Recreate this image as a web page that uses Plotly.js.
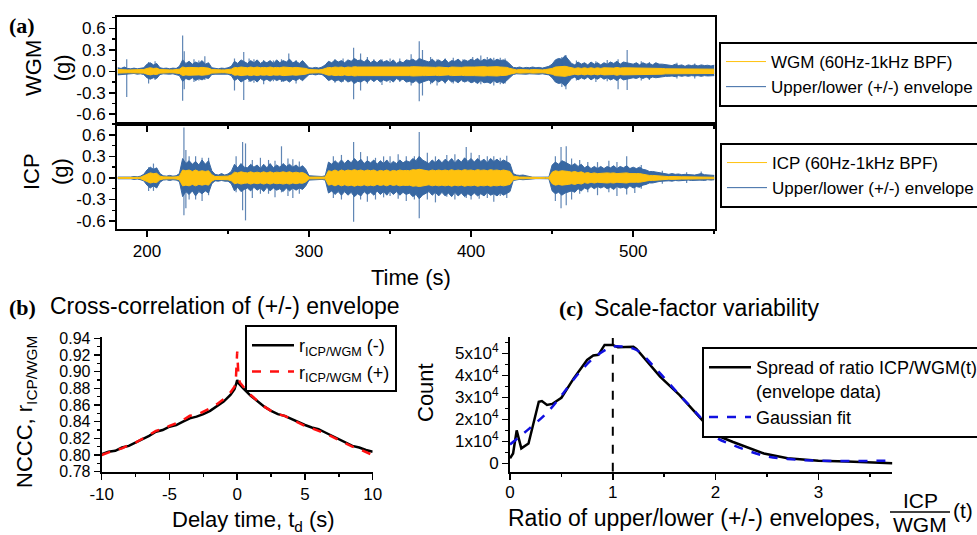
<!DOCTYPE html>
<html>
<head>
<meta charset="utf-8">
<script src="https://cdn.plot.ly/plotly-3.0.1.min.js"></script>
<style>html,body{margin:0;padding:0;background:#fff;}#chart{width:977px;height:535px;}</style>
</head>
<body>
<div id="chart"></div>
<script>
// ---------- Panel (a): sampled envelope / signal amplitude (g), 2 s grid ----------
const timeS = [
182,184,186,188,190,192,194,196,198,200,
202,204,206,208,210,212,214,216,218,220,
222,224,226,228,230,232,234,236,238,240,
242,244,246,248,250,252,254,256,258,260,
262,264,266,268,270,272,274,276,278,280,
282,284,286,288,290,292,294,296,298,300,
302,304,306,308,310,312,314,316,318,320,
322,324,326,328,330,332,334,336,338,340,
342,344,346,348,350,352,354,356,358,360,
362,364,366,368,370,372,374,376,378,380,
382,384,386,388,390,392,394,396,398,400,
402,404,406,408,410,412,414,416,418,420,
422,424,426,428,430,432,434,436,438,440,
442,444,446,448,450,452,454,456,458,460,
462,464,466,468,470,472,474,476,478,480,
482,484,486,488,490,492,494,496,498,500,
502,504,506,508,510,512,514,516,518,520,
522,524,526,528,530,532,534,536,538,540,
542,544,546,548,550];

const wgmUpper = [
0.05,0.04,0.06,0.04,0.035,0.045,0.035,0.04,0.05,0.10,
0.12,0.09,0.11,0.05,0.04,0.045,0.035,0.045,0.04,0.07,
0.16,0.11,0.14,0.10,0.13,0.11,0.15,0.10,0.12,0.05,
0.04,0.035,0.045,0.04,0.05,0.07,0.14,0.11,0.16,0.13,
0.11,0.15,0.12,0.16,0.11,0.14,0.12,0.15,0.11,0.16,
0.12,0.15,0.13,0.17,0.12,0.14,0.11,0.15,0.10,0.05,
0.045,0.055,0.045,0.06,0.09,0.14,0.12,0.16,0.13,0.15,
0.12,0.16,0.14,0.18,0.15,0.16,0.13,0.17,0.12,0.15,
0.12,0.16,0.13,0.15,0.12,0.16,0.11,0.14,0.12,0.16,
0.15,0.17,0.14,0.18,0.16,0.15,0.13,0.17,0.13,0.16,
0.13,0.17,0.12,0.15,0.14,0.17,0.13,0.16,0.14,0.17,
0.15,0.18,0.14,0.17,0.15,0.18,0.14,0.17,0.15,0.16,
0.14,0.10,0.055,0.05,0.06,0.045,0.055,0.05,0.06,0.05,
0.055,0.045,0.06,0.07,0.10,0.16,0.18,0.17,0.22,0.16,
0.11,0.09,0.13,0.10,0.12,0.09,0.13,0.10,0.12,0.09,
0.12,0.10,0.13,0.11,0.14,0.10,0.13,0.12,0.11,0.10,
0.12,0.09,0.12,0.10,0.11,0.09,0.12,0.10,0.10,0.09,
0.09,0.08,0.10,0.08,0.09,0.07,0.09,0.08,0.09,0.075,
0.09,0.08,0.085,0.075,0.085];

const wgmLower = [
-0.05,-0.045,-0.05,-0.035,-0.04,-0.03,-0.04,-0.035,-0.045,-0.09,
-0.11,-0.09,-0.10,-0.045,-0.035,-0.04,-0.04,-0.035,-0.045,-0.06,
-0.14,-0.10,-0.12,-0.09,-0.13,-0.10,-0.12,-0.09,-0.10,-0.045,
-0.04,-0.04,-0.035,-0.045,-0.04,-0.06,-0.13,-0.10,-0.15,-0.12,
-0.10,-0.14,-0.11,-0.15,-0.10,-0.13,-0.11,-0.14,-0.10,-0.13,
-0.11,-0.14,-0.12,-0.15,-0.11,-0.13,-0.10,-0.13,-0.09,-0.045,
-0.04,-0.05,-0.04,-0.045,-0.08,-0.13,-0.11,-0.14,-0.12,-0.15,
-0.11,-0.15,-0.13,-0.17,-0.14,-0.15,-0.12,-0.15,-0.11,-0.14,
-0.11,-0.15,-0.12,-0.14,-0.11,-0.15,-0.10,-0.13,-0.11,-0.15,
-0.14,-0.16,-0.13,-0.17,-0.15,-0.14,-0.12,-0.16,-0.12,-0.15,
-0.12,-0.16,-0.11,-0.15,-0.13,-0.16,-0.12,-0.15,-0.13,-0.16,
-0.14,-0.17,-0.13,-0.16,-0.15,-0.17,-0.13,-0.16,-0.14,-0.17,
-0.13,-0.09,-0.045,-0.035,-0.04,-0.035,-0.04,-0.035,-0.04,-0.035,
-0.04,-0.035,-0.045,-0.05,-0.09,-0.15,-0.17,-0.16,-0.21,-0.15,
-0.10,-0.08,-0.12,-0.09,-0.11,-0.08,-0.12,-0.09,-0.11,-0.08,
-0.11,-0.09,-0.12,-0.10,-0.13,-0.09,-0.12,-0.11,-0.10,-0.09,
-0.10,-0.08,-0.10,-0.08,-0.10,-0.08,-0.09,-0.08,-0.08,-0.07,
-0.07,-0.065,-0.075,-0.06,-0.07,-0.06,-0.07,-0.06,-0.065,-0.06,
-0.07,-0.06,-0.065,-0.06,-0.06];

const wgmSignalAmp = [
0.025,0.02,0.025,0.02,0.02,0.02,0.02,0.02,0.025,0.04,
0.05,0.04,0.045,0.025,0.02,0.02,0.02,0.02,0.02,0.03,
0.06,0.05,0.055,0.05,0.055,0.05,0.055,0.05,0.045,0.025,
0.02,0.02,0.02,0.02,0.025,0.03,0.055,0.05,0.06,0.055,
0.05,0.06,0.05,0.06,0.05,0.055,0.05,0.06,0.05,0.055,
0.05,0.06,0.055,0.06,0.05,0.055,0.05,0.055,0.04,0.025,
0.02,0.025,0.02,0.025,0.04,0.055,0.05,0.06,0.055,0.06,
0.05,0.06,0.055,0.065,0.06,0.06,0.055,0.06,0.05,0.055,
0.05,0.06,0.05,0.055,0.05,0.06,0.05,0.055,0.05,0.06,
0.06,0.065,0.06,0.065,0.06,0.06,0.055,0.06,0.055,0.06,
0.055,0.06,0.05,0.06,0.055,0.06,0.055,0.06,0.055,0.06,
0.06,0.065,0.06,0.065,0.06,0.065,0.06,0.065,0.06,0.06,
0.055,0.04,0.025,0.02,0.025,0.02,0.025,0.02,0.025,0.02,
0.025,0.02,0.025,0.03,0.04,0.06,0.065,0.065,0.07,0.06,
0.045,0.04,0.05,0.04,0.05,0.04,0.05,0.04,0.05,0.04,
0.05,0.045,0.05,0.045,0.055,0.045,0.05,0.05,0.045,0.04,
0.05,0.04,0.045,0.04,0.045,0.04,0.045,0.04,0.04,0.035,
0.035,0.03,0.035,0.03,0.035,0.03,0.035,0.03,0.03,0.03,
0.035,0.03,0.03,0.03,0.03];

const wgmSpikeTime = [187.5,201,222,223,235.7,254,259.7,263,287.5,296,327.5,331.8,340,350,363,368,370,384,395,410,418,456,458.5,490.7,496.3,505,
  205,229,232,266,272,278,283,292,316,321,336,345,356,375,379,389,401,406,414,421,465,477,484,510,527,538];
const wgmSpikeHigh = [0.17,0.13,0.50,0.28,0.21,0.18,0.27,0.18,0.25,0.14,0.33,0.25,0.17,0.18,0.24,0.42,0.30,0.18,0.17,0.20,0.19,0.20,0.23,0.17,0.30,0.14,
  0.14,0.17,0.15,0.17,0.16,0.15,0.17,0.16,0.17,0.18,0.20,0.17,0.18,0.20,0.17,0.19,0.20,0.22,0.19,0.18,0.15,0.14,0.16,0.13,0.12,0.11];
const wgmSpikeLow  = [-0.36,-0.17,-0.41,-0.25,-0.12,-0.27,-0.40,-0.15,-0.14,-0.13,-0.39,-0.27,-0.15,-0.16,-0.20,-0.42,-0.34,-0.17,-0.15,-0.16,-0.18,-0.22,-0.25,-0.25,-0.26,-0.13,
  -0.12,-0.15,-0.13,-0.16,-0.18,-0.14,-0.15,-0.17,-0.16,-0.15,-0.17,-0.19,-0.15,-0.18,-0.20,-0.17,-0.16,-0.18,-0.20,-0.17,-0.13,-0.15,-0.14,-0.12,-0.10,-0.10];

const icpUpper = [
0.012,0.01,0.015,0.01,0.012,0.02,0.015,0.025,0.05,0.11,
0.15,0.12,0.14,0.06,0.03,0.025,0.035,0.025,0.03,0.06,
0.27,0.20,0.24,0.19,0.23,0.18,0.25,0.19,0.24,0.10,
0.05,0.04,0.06,0.04,0.055,0.09,0.19,0.14,0.20,0.15,
0.14,0.19,0.15,0.18,0.13,0.19,0.14,0.20,0.14,0.18,
0.15,0.20,0.16,0.19,0.15,0.18,0.14,0.17,0.12,0.03,
0.025,0.02,0.025,0.02,0.03,0.22,0.19,0.24,0.20,0.25,
0.20,0.25,0.21,0.27,0.22,0.26,0.20,0.24,0.21,0.25,
0.19,0.24,0.20,0.25,0.19,0.23,0.20,0.25,0.21,0.24,
0.22,0.27,0.24,0.30,0.25,0.23,0.20,0.25,0.21,0.26,
0.21,0.26,0.22,0.27,0.21,0.26,0.22,0.28,0.23,0.27,
0.22,0.27,0.23,0.26,0.21,0.27,0.23,0.26,0.22,0.25,
0.23,0.20,0.06,0.04,0.035,0.04,0.03,0.015,0.01,0.01,
0.01,0.01,0.01,0.012,0.18,0.22,0.19,0.24,0.22,0.20,
0.17,0.20,0.16,0.19,0.14,0.17,0.13,0.16,0.13,0.16,
0.13,0.16,0.14,0.17,0.13,0.16,0.14,0.17,0.13,0.15,
0.13,0.15,0.12,0.11,0.09,0.09,0.08,0.07,0.065,0.06,
0.05,0.06,0.05,0.055,0.045,0.05,0.045,0.05,0.04,0.05,
0.06,0.045,0.04,0.045,0.035];

const icpLower = [
-0.012,-0.01,-0.015,-0.01,-0.012,-0.02,-0.015,-0.025,-0.04,-0.10,
-0.14,-0.11,-0.14,-0.06,-0.03,-0.025,-0.035,-0.025,-0.03,-0.05,
-0.26,-0.19,-0.23,-0.18,-0.25,-0.19,-0.22,-0.18,-0.21,-0.08,
-0.04,-0.045,-0.035,-0.045,-0.045,-0.08,-0.18,-0.13,-0.19,-0.16,
-0.14,-0.18,-0.13,-0.17,-0.14,-0.19,-0.13,-0.18,-0.14,-0.17,
-0.15,-0.19,-0.14,-0.18,-0.14,-0.17,-0.14,-0.16,-0.11,-0.03,
-0.025,-0.02,-0.025,-0.02,-0.03,-0.21,-0.18,-0.23,-0.19,-0.24,
-0.19,-0.24,-0.20,-0.26,-0.22,-0.25,-0.19,-0.23,-0.20,-0.24,
-0.18,-0.23,-0.19,-0.24,-0.18,-0.23,-0.19,-0.24,-0.20,-0.23,
-0.21,-0.26,-0.23,-0.29,-0.24,-0.22,-0.19,-0.24,-0.20,-0.25,
-0.20,-0.25,-0.21,-0.26,-0.20,-0.25,-0.21,-0.26,-0.22,-0.25,
-0.21,-0.25,-0.22,-0.25,-0.20,-0.24,-0.22,-0.25,-0.21,-0.24,
-0.22,-0.19,-0.035,-0.025,-0.02,-0.025,-0.02,-0.01,-0.01,-0.01,
-0.01,-0.01,-0.01,-0.012,-0.18,-0.22,-0.20,-0.24,-0.21,-0.19,
-0.18,-0.20,-0.15,-0.18,-0.14,-0.16,-0.12,-0.15,-0.12,-0.14,
-0.12,-0.15,-0.13,-0.16,-0.12,-0.14,-0.13,-0.15,-0.11,-0.14,
-0.12,-0.13,-0.10,-0.09,-0.07,-0.07,-0.055,-0.05,-0.045,-0.04,
-0.04,-0.045,-0.035,-0.04,-0.035,-0.04,-0.03,-0.035,-0.03,-0.035,
-0.03,-0.035,-0.025,-0.03,-0.025];

const icpSignalAmp = [
0.006,0.005,0.006,0.005,0.006,0.008,0.008,0.01,0.025,0.05,
0.07,0.06,0.065,0.025,0.015,0.012,0.015,0.012,0.015,0.025,
0.11,0.10,0.11,0.09,0.11,0.09,0.10,0.09,0.10,0.045,
0.02,0.02,0.02,0.02,0.025,0.04,0.08,0.07,0.085,0.075,
0.07,0.085,0.07,0.08,0.07,0.085,0.07,0.085,0.07,0.08,
0.075,0.085,0.075,0.085,0.07,0.08,0.07,0.075,0.055,0.012,
0.01,0.008,0.01,0.008,0.012,0.10,0.09,0.11,0.09,0.11,
0.095,0.11,0.10,0.115,0.10,0.11,0.095,0.11,0.10,0.11,
0.09,0.105,0.095,0.11,0.09,0.105,0.095,0.11,0.10,0.105,
0.10,0.115,0.11,0.12,0.11,0.105,0.095,0.11,0.10,0.11,
0.10,0.11,0.10,0.115,0.10,0.11,0.10,0.115,0.105,0.11,
0.10,0.115,0.105,0.11,0.10,0.115,0.105,0.11,0.10,0.11,
0.10,0.09,0.025,0.015,0.012,0.012,0.01,0.005,0.004,0.004,
0.004,0.004,0.004,0.005,0.08,0.10,0.09,0.10,0.10,0.09,
0.08,0.09,0.075,0.085,0.065,0.075,0.06,0.07,0.06,0.065,
0.06,0.07,0.065,0.07,0.06,0.065,0.06,0.07,0.06,0.065,
0.06,0.06,0.05,0.045,0.035,0.035,0.03,0.025,0.025,0.02,
0.018,0.02,0.016,0.018,0.016,0.016,0.015,0.015,0.014,0.015,
0.014,0.014,0.012,0.012,0.01];

const icpSpikeTime = [201,222.8,224,226,238,255,259,260.8,275,283,290,327.5,331.8,350,365,368,385,397,400,410,418,455.5,458.7,472,496,501,542,
  204,230,234,265,270,279,287,294,315,320,336,341,346,355,360,373,378,390,405,414,422,452,462,467,478,485,490,505,518,533];
const icpSpikeHigh = [0.15,0.70,0.39,0.30,0.28,0.30,0.50,0.48,0.25,0.44,0.26,0.50,0.36,0.30,0.30,0.64,0.32,0.43,0.35,0.30,0.28,0.43,0.44,0.22,0.30,0.12,0.09,
  0.20,0.30,0.28,0.25,0.28,0.24,0.27,0.23,0.30,0.32,0.30,0.28,0.30,0.33,0.30,0.35,0.30,0.33,0.32,0.30,0.31,0.30,0.27,0.25,0.22,0.24,0.22,0.18,0.10,0.08];
const icpSpikeLow  = [-0.18,-0.52,-0.42,-0.30,-0.24,-0.20,-0.45,-0.59,-0.22,-0.20,-0.28,-0.61,-0.30,-0.25,-0.30,-0.56,-0.26,-0.28,-0.30,-0.28,-0.25,-0.42,-0.38,-0.20,-0.23,-0.21,-0.04,
  -0.18,-0.30,-0.32,-0.28,-0.22,-0.27,-0.25,-0.22,-0.28,-0.30,-0.33,-0.30,-0.27,-0.29,-0.32,-0.30,-0.34,-0.30,-0.29,-0.33,-0.28,-0.32,-0.30,-0.22,-0.24,-0.20,-0.25,-0.15,-0.08,-0.07];

const ampTickVals = [-0.6,-0.3,0,0.3,0.6];
const ampTickText = ["-0.6","-0.3","0.0","0.3","0.6"];

// ---------- Panel (b): normalised cross-correlation ----------
const delayS = [-10,-9.5,-9,-8.5,-8,-7.5,-7,-6.5,-6,-5.5,-5,-4.5,-4,-3.5,-3,-2.5,-2,-1.5,-1,-0.5,-0.2,-0.1,0,0.1,0.2,0.5,1,1.5,2,2.5,3,3.5,4,4.5,5,5.5,6,6.5,7,7.5,8,8.5,9,9.5,10];
const ncccMinus = [0.801,0.804,0.805,0.809,0.811,0.815,0.818,0.823,0.828,0.830,0.834,0.836,0.840,0.844,0.846,0.849,0.853,0.858,0.864,0.872,0.879,0.884,0.890,0.886,0.884,0.879,0.871,0.864,0.858,0.853,0.849,0.847,0.843,0.839,0.836,0.833,0.831,0.827,0.823,0.819,0.815,0.811,0.809,0.806,0.804];
const ncccPlus  = [0.800,0.803,0.806,0.808,0.812,0.815,0.819,0.824,0.829,0.831,0.835,0.838,0.842,0.847,0.848,0.852,0.856,0.861,0.867,0.875,0.882,0.890,0.924,0.892,0.887,0.881,0.872,0.865,0.858,0.853,0.849,0.847,0.843,0.838,0.835,0.832,0.829,0.826,0.822,0.818,0.814,0.810,0.807,0.803,0.800];
const delayTickVals = [-10,-5,0,5,10];
const delayTickText = ["-10","-5","0","5","10"];
const ncccTickVals = [0.78,0.80,0.82,0.84,0.86,0.88,0.90,0.92,0.94];
const ncccTickText = ["0.78","0.80","0.82","0.84","0.86","0.88","0.90","0.92","0.94"];

// ---------- Panel (c): distribution of envelope ratio ----------
const ratioX = [0,0.03,0.065,0.11,0.18,0.23,0.28,0.31,0.36,0.41,0.5,0.62,0.75,0.81,0.86,0.92,1.0,1.05,1.2,1.23,1.46,1.65,1.85,2.0,2.17,2.47,2.7,3.0,3.28,3.72];
const ratioCount = [2300,4500,15000,6800,9000,18000,28000,28300,26500,27000,29800,38600,47000,49000,49300,53800,53800,52700,53000,52000,39400,31000,20500,12900,9700,4500,2300,1200,800,0];
const fitX = [0,0.19,0.36,0.52,0.68,0.84,1.0,1.1,1.23,1.43,1.65,1.85,2.0,2.17,2.47,2.7,3.0,3.72];
const fitCount = [8600,15900,23000,32000,41600,48800,53000,53000,51500,42400,31000,21000,12000,8300,3500,2000,1200,1200];
const peakRatio = 1;
const countTickVals = [0,10000,20000,30000,40000,50000];
const countTickText = ["0","1x10<sup>4</sup>","2x10<sup>4</sup>","3x10<sup>4</sup>","4x10<sup>4</sup>","5x10<sup>4</sup>"];

// ---------- build ----------
const W = 977, H = 535;
const fx = p => p / W;
const fy = p => 1 - p / H;
const FONT = "Liberation Sans, Arial, sans-serif";
const SERIF = "Liberation Serif, Times New Roman, serif";
const BLUE = "#3868a3";
const YELLOW = "#ffc20e";

function spikeSegments(ts, hi, lo) {
  const x = [], y = [];
  for (let i = 0; i < ts.length; i++) { x.push(ts[i], ts[i], null); y.push(lo[i], hi[i], null); }
  return {x, y};
}
const neg = a => a.map(v => -v);

function envelopeTraces(xa, ya, up, lo, sig, spikes, sigName, leg) {
  return [
    {x: timeS, y: up, xaxis: xa, yaxis: ya, type: 'scatter', mode: 'lines', line: {color: BLUE, width: 1},
     name: 'Upper/lower (+/-) envelope', legend: leg, legendrank: 2},
    {x: timeS, y: lo, xaxis: xa, yaxis: ya, type: 'scatter', mode: 'lines', line: {color: BLUE, width: 1},
     fill: 'tonexty', fillcolor: BLUE, showlegend: false, legend: leg},
    {x: spikes.x, y: spikes.y, xaxis: xa, yaxis: ya, type: 'scatter', mode: 'lines',
     line: {color: 'rgba(56,104,163,0.8)', width: 1.2}, showlegend: false, connectgaps: false},
    {x: timeS, y: sig, xaxis: xa, yaxis: ya, type: 'scatter', mode: 'lines', line: {color: YELLOW, width: 1},
     name: sigName, legend: leg, legendrank: 1},
    {x: timeS, y: neg(sig), xaxis: xa, yaxis: ya, type: 'scatter', mode: 'lines', line: {color: YELLOW, width: 1},
     fill: 'tonexty', fillcolor: YELLOW, showlegend: false, legend: leg}
  ];
}

const traces = [].concat(
  envelopeTraces('x', 'y', wgmUpper, wgmLower, wgmSignalAmp, spikeSegments(wgmSpikeTime, wgmSpikeHigh, wgmSpikeLow), 'WGM (60Hz-1kHz BPF)', 'legend'),
  envelopeTraces('x2', 'y2', icpUpper, icpLower, icpSignalAmp, spikeSegments(icpSpikeTime, icpSpikeHigh, icpSpikeLow), 'ICP (60Hz-1kHz BPF)', 'legend2'),
  [
    {x: delayS, y: ncccMinus, xaxis: 'x3', yaxis: 'y3', type: 'scatter', mode: 'lines',
     line: {color: '#000', width: 2.5}, name: 'r<sub>ICP/WGM</sub> (-)', legend: 'legend3'},
    {x: delayS, y: ncccPlus, xaxis: 'x3', yaxis: 'y3', type: 'scatter', mode: 'lines',
     line: {color: '#ff1010', width: 2.5, dash: 'dash'}, name: 'r<sub>ICP/WGM</sub> (+)', legend: 'legend3'},
    {x: ratioX, y: ratioCount, xaxis: 'x4', yaxis: 'y4', type: 'scatter', mode: 'lines',
     line: {color: '#000', width: 2.5}, name: 'Spread of ratio ICP/WGM(t)<br>(envelope data)', legend: 'legend4'},
    {x: fitX, y: fitCount, xaxis: 'x4', yaxis: 'y4', type: 'scatter', mode: 'lines',
     line: {color: '#1010e0', width: 2.5, dash: 'dash', shape: 'spline'}, name: 'Gaussian fit', legend: 'legend4'}
  ]
);

const axBase = {showline: true, linecolor: '#000', linewidth: 2, ticks: 'outside', ticklen: 6, tickwidth: 1.5,
  tickcolor: '#000', showgrid: false, zeroline: false, tickfont: {size: 17, family: FONT, color: '#000'}, fixedrange: true};
const minorOut = (d) => ({dtick: d, ticks: 'outside', ticklen: 3, tickwidth: 1.5, tickcolor: '#000', showgrid: false});

const aXdom = [fx(117), fx(715)];
const legBase = {xanchor: 'left', yanchor: 'top', bordercolor: '#000', borderwidth: 2, bgcolor: '#fff',
  traceorder: 'normal', tracegroupgap: 0};
const layout = {
  width: W, height: H,
  margin: {l: 0, r: 0, t: 0, b: 0, autoexpand: false},
  paper_bgcolor: '#fff', plot_bgcolor: 'rgba(0,0,0,0)',
  font: {family: FONT, color: '#000', size: 17},
  showlegend: true,
  xaxis: Object.assign({}, axBase, {domain: aXdom, range: [181.5, 550.5], anchor: 'y', tick0: 0, dtick: 100,
    minor: minorOut(50), showticklabels: false, mirror: true}),
  yaxis: Object.assign({}, axBase, {domain: [fy(123.5), fy(17)], range: [-0.73, 0.76], anchor: 'x',
    tickvals: ampTickVals, ticktext: ampTickText, minor: Object.assign(minorOut(0.15), {tick0: 0}), mirror: true}),
  xaxis2: Object.assign({}, axBase, {domain: aXdom, range: [181.5, 550.5], anchor: 'y2', tick0: 0, dtick: 100,
    minor: minorOut(50), mirror: true}),
  yaxis2: Object.assign({}, axBase, {domain: [fy(229), fy(124)], range: [-0.71, 0.75], anchor: 'x2',
    tickvals: ampTickVals, ticktext: ampTickText, minor: Object.assign(minorOut(0.15), {tick0: 0}), mirror: true}),
  xaxis3: Object.assign({}, axBase, {domain: [fx(101.7), fx(372.7)], range: [-10, 10], anchor: 'y3',
    tickvals: delayTickVals, ticktext: delayTickText, minor: Object.assign(minorOut(2.5), {tick0: 0})}),
  yaxis3: Object.assign({}, axBase, {domain: [fy(471.7), fy(336.6)], range: [0.78, 0.942], anchor: 'x3',
    tickvals: ncccTickVals, ticktext: ncccTickText, tickfont: {size: 16, family: FONT, color: '#000'},
    minor: Object.assign(minorOut(0.01), {tick0: 0})}),
  xaxis4: Object.assign({}, axBase, {domain: [fx(510), fx(892.4)], range: [0, 3.72], anchor: 'y4',
    tick0: 0, dtick: 1, minor: minorOut(0.5), ticklabelstandoff: -2}),
  yaxis4: Object.assign({}, axBase, {domain: [fy(471.7), fy(336.8)], range: [-3800, 57500], anchor: 'x4',
    tickvals: countTickVals, ticktext: countTickText, minor: Object.assign(minorOut(5000), {tick0: 0})}),
  legend: Object.assign({}, legBase, {x: fx(719), y: fy(42), font: {size: 17, family: FONT}, itemwidth: 40}),
  legend2: Object.assign({}, legBase, {x: fx(720), y: fy(143), font: {size: 17, family: FONT}, itemwidth: 40}),
  legend3: Object.assign({}, legBase, {x: fx(245), y: fy(325), font: {size: 18, family: FONT}, itemwidth: 42}),
  legend4: Object.assign({}, legBase, {x: fx(702), y: fy(347), font: {size: 18, family: FONT}, itemwidth: 42, valign: 'top'}),
  shapes: [
    {type: 'line', xref: 'x4', yref: 'y4', x0: peakRatio, x1: peakRatio, y0: -3800, y1: 57000,
     line: {color: '#000', width: 2, dash: 'dash'}},
    {type: 'line', xref: 'paper', yref: 'paper', x0: fx(890), x1: fx(950), y0: fy(512), y1: fy(512),
     line: {color: '#000', width: 1.5}}
  ],
  annotations: []
};

function ann(text, x, y, o) {
  o = o || {};
  return Object.assign({text: text, x: fx(x), y: fy(y), xref: 'paper', yref: 'paper', showarrow: false,
    xanchor: 'center', yanchor: 'middle', font: {size: 22, family: FONT, color: '#000'}}, o);
}
layout.annotations.push(
  ann('<b>(a)</b>', 7, 25, {xanchor: 'left', font: {size: 22, family: SERIF, color: '#000'}}),
  ann('WGM<br>(g)', 48, 68, {textangle: -90}),
  ann('ICP<br>(g)', 46, 172, {textangle: -90}),
  ann('Time (s)', 411, 277),
  ann('<b>(b)</b>', 7, 307, {xanchor: 'left', font: {size: 22, family: SERIF, color: '#000'}}),
  ann('Cross-correlation of (+/-) envelope', 48, 306, {xanchor: 'left', font: {size: 23, family: FONT, color: '#000'}}),
  ann('NCCC, r<sub>ICP/WGM</sub>', 26, 412, {textangle: -90}),
  ann('Delay time, t<sub>d</sub> (s)', 253, 521),
  ann('<b>(c)</b>', 557, 308, {xanchor: 'left', font: {size: 22, family: SERIF, color: '#000'}}),
  ann('Scale-factor variability', 592, 308, {xanchor: 'left', font: {size: 23, family: FONT, color: '#000'}}),
  ann('Count', 425, 393, {textangle: -90}),
  ann('Ratio of upper/lower (+/-) envelopes,', 506, 518, {xanchor: 'left', font: {size: 23, family: FONT, color: '#000'}}),
  ann('ICP', 920, 500, {font: {size: 21, family: FONT, color: '#000'}}),
  ann('WGM', 920, 524, {font: {size: 21, family: FONT, color: '#000'}}),
  ann('(t)', 963, 510, {font: {size: 21, family: FONT, color: '#000'}})
);

Plotly.newPlot('chart', traces, layout, {staticPlot: true, displayModeBar: false});
</script>
</body>
</html>
